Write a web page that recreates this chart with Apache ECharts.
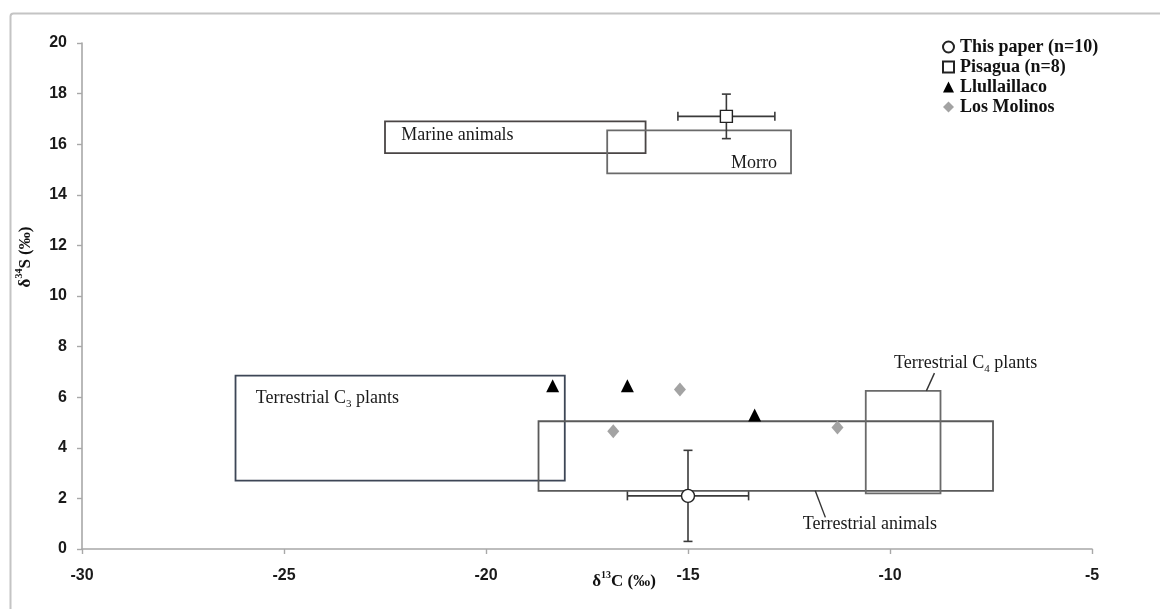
<!DOCTYPE html>
<html><head><meta charset="utf-8">
<script src="https://cdn.jsdelivr.net/npm/echarts@6/dist/echarts.min.js"></script>
<style>html,body{margin:0;padding:0;background:#fff}#c{width:1160px;height:609px}</style>
</head><body><div id="c"></div>
<script>
// ---- data ----
const xTickLabels = [-30, -25, -20, -15, -10, -5];
const yTickLabels = [0, 2, 4, 6, 8, 10, 12, 14, 16, 18, 20];
const seriesNames = ['This paper (n=10)', 'Pisagua (n=8)', 'Llullaillaco', 'Los Molinos'];

const thisPaperX = [-15.0];
const thisPaperY = [2.1];
const thisPaperXErr = [1.5];
const thisPaperYErr = [1.8];

const pisaguaX = [-14.05];
const pisaguaY = [17.1];
const pisaguaXErr = [1.2];
const pisaguaYErr = [0.88];

const llullaillacoX = [-18.35, -16.5, -13.35];
const llullaillacoY = [6.45, 6.45, 5.3];

const losMolinosX = [-16.85, -15.2, -11.3];
const losMolinosY = [4.65, 6.3, 4.8];

const boxNames = ['Marine animals', 'Morro', 'Terrestrial C3 plants', 'Terrestrial animals', 'Terrestrial C4 plants'];
const boxXMin = [-22.5, -17.0, -26.2, -18.7, -10.6];
const boxXMax = [-16.05, -12.45, -18.05, -7.45, -8.75];
const boxYMin = [15.65, 14.85, 2.7, 2.3, 2.2];
const boxYMax = [16.9, 16.55, 6.85, 5.05, 6.25];

// ---- annotation anchors (data coords) ----
const boxLabelText = ['Marine animals', 'Morro', 'Terrestrial C{sub|3} plants', 'Terrestrial animals', 'Terrestrial C{sub|4} plants'];
const boxLabelX = [-22.1, -12.8, -25.7, -10.5, -9.9];
const boxLabelY = [16.3, 15.2, 5.9, 0.95, 7.3];
const boxLabelAlign = ['left', 'right', 'left', 'center', 'left'];
const leaderX1 = [-11.85, -9.1];
const leaderY1 = [2.3, 6.25];
const leaderX2 = [-11.6, -8.9];
const leaderY2 = [1.25, 6.95];

const SERIF = '"Liberation Serif","Times New Roman",serif';
const SANS = '"Liberation Sans",Arial,sans-serif';

const boxStroke = ['#4a4545', '#6a6a6a', '#3d4656', '#5a5a5a', '#6a6a6a'];

const chart = echarts.init(document.getElementById('c'), null, {renderer: 'canvas'});

function errData(xs, ys, xe, ye) { return xs.map((x, i) => [x, ys[i], xe[i], ye[i]]); }

function renderErr(params, api) {
  const x = api.value(0), y = api.value(1), xe = api.value(2), ye = api.value(3);
  const l = api.coord([x - xe, y]), r = api.coord([x + xe, y]);
  const t = api.coord([x, y + ye]), b = api.coord([x, y - ye]);
  const cap = 4.5;
  const st = {stroke: '#3a3a3a', lineWidth: 1.6};
  return {type: 'group', children: [
    {type: 'line', shape: {x1: l[0], y1: l[1], x2: r[0], y2: r[1]}, style: st},
    {type: 'line', shape: {x1: t[0], y1: t[1], x2: b[0], y2: b[1]}, style: st},
    {type: 'line', shape: {x1: l[0], y1: l[1] - cap, x2: l[0], y2: l[1] + cap}, style: st},
    {type: 'line', shape: {x1: r[0], y1: r[1] - cap, x2: r[0], y2: r[1] + cap}, style: st},
    {type: 'line', shape: {x1: t[0] - cap, y1: t[1], x2: t[0] + cap, y2: t[1]}, style: st},
    {type: 'line', shape: {x1: b[0] - cap, y1: b[1], x2: b[0] + cap, y2: b[1]}, style: st}
  ]};
}

const option = {
  animation: false,
  backgroundColor: '#fff',
  grid: {left: 82, right: 68, top: 43, bottom: 60, containLabel: false},
  xAxis: {
    type: 'value', min: xTickLabels[0], max: xTickLabels[xTickLabels.length - 1], interval: 5,
    splitLine: {show: false},
    axisLine: {onZero: false, lineStyle: {color: '#a8a8a8', width: 1.6}},
    axisTick: {show: true, inside: false, length: 5, lineStyle: {color: '#a8a8a8', width: 1.4}},
    axisLabel: {margin: 19, fontFamily: SANS, fontWeight: 'bold', fontSize: 16, color: '#1a1a1a'}
  },
  yAxis: {
    type: 'value', min: yTickLabels[0], max: yTickLabels[yTickLabels.length - 1], interval: 2,
    splitLine: {show: false},
    axisLine: {show: true, onZero: false, lineStyle: {color: '#a8a8a8', width: 1.6}},
    axisTick: {show: true, inside: false, length: 5, lineStyle: {color: '#a8a8a8', width: 1.4}},
    axisLabel: {margin: 15, fontFamily: SANS, fontWeight: 'bold', fontSize: 16, color: '#1a1a1a'}
  },
  legend: {
    orient: 'vertical', left: 937, top: 33, itemGap: 2, itemWidth: 11, itemHeight: 11,
    data: seriesNames,
    textStyle: {fontFamily: SERIF, fontWeight: 'bold', fontSize: 18, color: '#111', padding: [0, 0, 0, 1]}
  },
  graphic: [
    {type: 'rect', left: 8, top: 11, shape: {width: 1170, height: 640, r: 3}, style: {fill: 'none', stroke: '#c4c4c4', lineWidth: 2}, silent: true},
    {type: 'text', x: 624, y: 580, style: {
      text: '{a|δ}{s|13}{a|C (‰)}', align: 'center', verticalAlign: 'middle',
      rich: {a: {fontFamily: SERIF, fontSize: 17, fontWeight: 'bold', fill: '#111', lineHeight: 20, verticalAlign: 'bottom'},
             s: {fontFamily: SERIF, fontSize: 10, fontWeight: 'bold', fill: '#111', lineHeight: 12, verticalAlign: 'top'}}
    }},
    {type: 'text', x: 24, y: 257, rotation: Math.PI / 2, style: {
      text: '{a|δ}{s|34}{a|S (‰)}', align: 'center', verticalAlign: 'middle',
      rich: {a: {fontFamily: SERIF, fontSize: 17, fontWeight: 'bold', fill: '#111', lineHeight: 20, verticalAlign: 'bottom'},
             s: {fontFamily: SERIF, fontSize: 10, fontWeight: 'bold', fill: '#111', lineHeight: 12, verticalAlign: 'top'}}
    }}
  ],
  series: [
    {
      type: 'custom', name: 'boxes', silent: true, z: 1,
      data: boxNames.map((n, i) => [boxXMin[i], boxYMin[i], boxXMax[i], boxYMax[i]]),
      encode: {x: [0, 2], y: [1, 3]},
      renderItem: function (params, api) {
        const p1 = api.coord([api.value(0), api.value(3)]);
        const p2 = api.coord([api.value(2), api.value(1)]);
        return {type: 'rect', shape: {x: p1[0], y: p1[1], width: p2[0] - p1[0], height: p2[1] - p1[1]},
                style: {fill: 'none', stroke: boxStroke[params.dataIndex], lineWidth: 1.8}};
      }
    },
    {
      type: 'custom', name: 'leaders', silent: true, z: 1,
      data: leaderX1.map((x, i) => [x, leaderY1[i], leaderX2[i], leaderY2[i]]),
      encode: {x: [0, 2], y: [1, 3]},
      renderItem: function (params, api) {
        const a = api.coord([api.value(0), api.value(1)]);
        const b = api.coord([api.value(2), api.value(3)]);
        return {type: 'line', shape: {x1: a[0], y1: a[1], x2: b[0], y2: b[1]}, style: {stroke: '#333', lineWidth: 1.4}};
      }
    },
    {
      type: 'custom', name: 'boxLabels', silent: true, z: 3,
      data: boxLabelX.map((x, i) => [x, boxLabelY[i]]),
      renderItem: function (params, api) {
        const i = params.dataIndex;
        const p = api.coord([api.value(0), api.value(1)]);
        return {type: 'text', x: p[0], y: p[1], style: {
          text: '{t|' + boxLabelText[i].replace(/\{sub\|(\d)\}/, '}{sub|$1}{t|') + '}',
          align: boxLabelAlign[i], verticalAlign: 'middle',
          rich: {t: {fontFamily: SERIF, fontSize: 18, fill: '#1a1a1a', lineHeight: 20, verticalAlign: 'top'},
                 sub: {fontFamily: SERIF, fontSize: 11, fill: '#1a1a1a', lineHeight: 12, verticalAlign: 'bottom'}}
        }};
      }
    },
    {
      type: 'custom', name: 'errThis', silent: true, z: 2,
      data: errData(thisPaperX, thisPaperY, thisPaperXErr, thisPaperYErr),
      renderItem: renderErr
    },
    {
      type: 'custom', name: 'errPisagua', silent: true, z: 2,
      data: errData(pisaguaX, pisaguaY, pisaguaXErr, pisaguaYErr),
      renderItem: renderErr
    },
    {
      type: 'scatter', name: seriesNames[0], z: 5, symbol: 'circle', symbolSize: 13,
      itemStyle: {color: '#ffffff', borderColor: '#222', borderWidth: 1.4, opacity: 1},
      data: thisPaperX.map((x, i) => [x, thisPaperY[i]])
    },
    {
      type: 'scatter', name: seriesNames[1], z: 5, symbol: 'rect', symbolSize: 12,
      itemStyle: {color: '#ffffff', borderColor: '#222', borderWidth: 1.4, opacity: 1},
      data: pisaguaX.map((x, i) => [x, pisaguaY[i]])
    },
    {
      type: 'scatter', name: seriesNames[2], z: 5, symbol: 'triangle', symbolSize: [13, 13],
      itemStyle: {color: '#000000', opacity: 1},
      data: llullaillacoX.map((x, i) => [x, llullaillacoY[i]])
    },
    {
      type: 'scatter', name: seriesNames[3], z: 5, symbol: 'diamond', symbolSize: [12, 14],
      itemStyle: {color: '#a3a3a3', opacity: 1},
      data: losMolinosX.map((x, i) => [x, losMolinosY[i]])
    }
  ]
};
chart.setOption(option);
</script>
</body></html>
